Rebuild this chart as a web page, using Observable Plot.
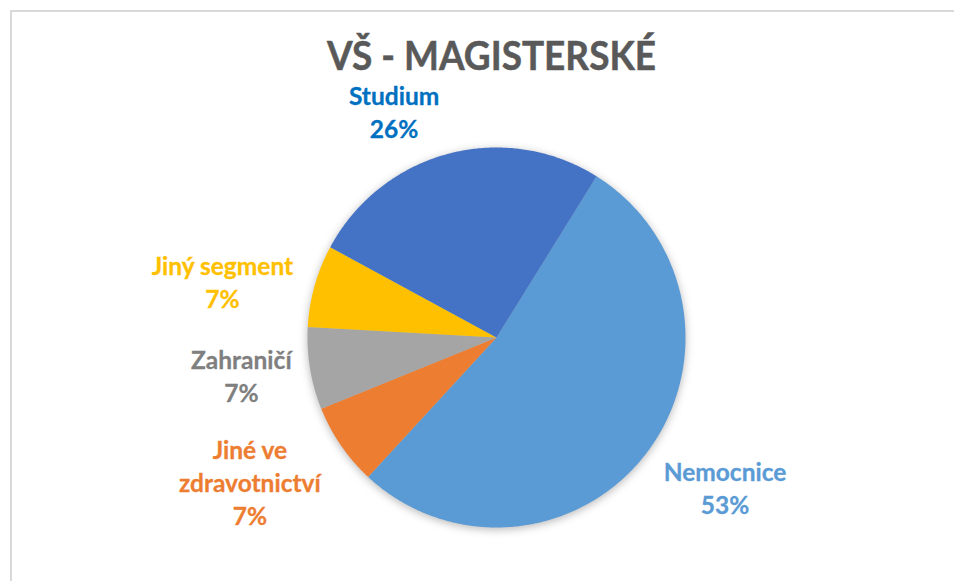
<!DOCTYPE html>
<html>
<head>
<meta charset="utf-8">
<script src="https://cdn.jsdelivr.net/npm/d3@7"></script>
<script src="https://cdn.jsdelivr.net/npm/@observablehq/plot@0.6"></script>
<style>
  html, body { margin: 0; padding: 0; background: #fff; }
  #wrap { position: relative; width: 954px; height: 581px; overflow: hidden; }
  #frame { position: absolute; left: 10px; top: 10px; width: 960px; height: 600px;
           border-top: 2px solid #d9d9d9; border-left: 2px solid #d9d9d9; pointer-events: none; }
</style>
</head>
<body>
<div id="wrap"><div id="frame"></div></div>
<script>
// ---- data ----
const title = "VŠ - MAGISTERSKÉ";
const categories = ["Nemocnice", "Jiné ve zdravotnictví", "Zahraničí", "Jiný segment", "Studium"];
const shares = [53, 7, 7, 7, 26];
const labelLines = [["Nemocnice"], ["Jiné ve", "zdravotnictví"], ["Zahraničí"], ["Jiný segment"], ["Studium"]];

// ---- styles / layout ----
const sliceColors = ["#5B9BD5", "#ED7D31", "#A5A5A5", "#FFC000", "#4472C4"];
const labelColors = ["#5B9BD5", "#ED7D31", "#7F7F7F", "#FFC000", "#0070C0"];
const labelPos = [[1.209, 0.785], [-1.305, 0.758], [-1.350, 0.198], [-1.450, -0.300], [-0.542, -1.192]];
const startDeg = 32;

// slice polygons (unit circle, angle measured clockwise from 12 o'clock)
const total = d3.sum(shares);
const pts = [];
let cum = 0;
categories.forEach((name, i) => {
  const a0 = startDeg + cum / total * 360;
  const a1 = a0 + shares[i] / total * 360;
  cum += shares[i];
  pts.push({name, x: 0, y: 0});
  const n = Math.max(2, Math.ceil(a1 - a0) * 2);
  for (let k = 0; k <= n; k++) {
    const a = (a0 + (a1 - a0) * k / n) * Math.PI / 180;
    pts.push({name, x: Math.sin(a), y: -Math.cos(a)});
  }
});

const labels = categories.map((name, i) => ({
  name,
  text: [...labelLines[i], `${shares[i]}%`].join("\n"),
  x: labelPos[i][0], y: labelPos[i][1], color: labelColors[i]
}));

const chart = Plot.plot({
  width: 954,
  height: 581,
  margin: 0,
  style: {fontFamily: "Lato, 'Open Sans', sans-serif", background: "transparent"},
  x: {domain: [-1, 1], range: [307, 685], axis: null},
  y: {domain: [-1, 1], range: [147, 527], axis: null},
  color: {domain: categories, range: sliceColors},
  marks: [
    Plot.line(pts, {x: "x", y: "y", z: "name", fill: "name", stroke: null, curve: "linear-closed"}),
    ...labels.map(d => Plot.text([d], {
      x: "x", y: "y", text: "text", fill: d.color,
      fontSize: 24.5, fontWeight: "bold", lineHeight: 1.35, textAnchor: "middle",
      stroke: d.color, strokeWidth: 0.3
    })),
    Plot.text([title], {
      frameAnchor: "top", dx: 14, dy: 57, lineAnchor: "middle",
      fontSize: 40, fontWeight: "bold", fill: "#595959", stroke: "#595959", strokeWidth: 0.5
    })
  ]
});

const svg = d3.select(chart);
svg.select("g[aria-label=line]").style("filter", "drop-shadow(0px 2px 4px rgba(0,0,0,0.28))");
svg.selectAll("g[aria-label=text] text").filter(function() { return this.textContent === title; })
  .attr("textLength", 329).attr("lengthAdjust", "spacingAndGlyphs");

document.getElementById("wrap").prepend(chart);
</script>
</body>
</html>
